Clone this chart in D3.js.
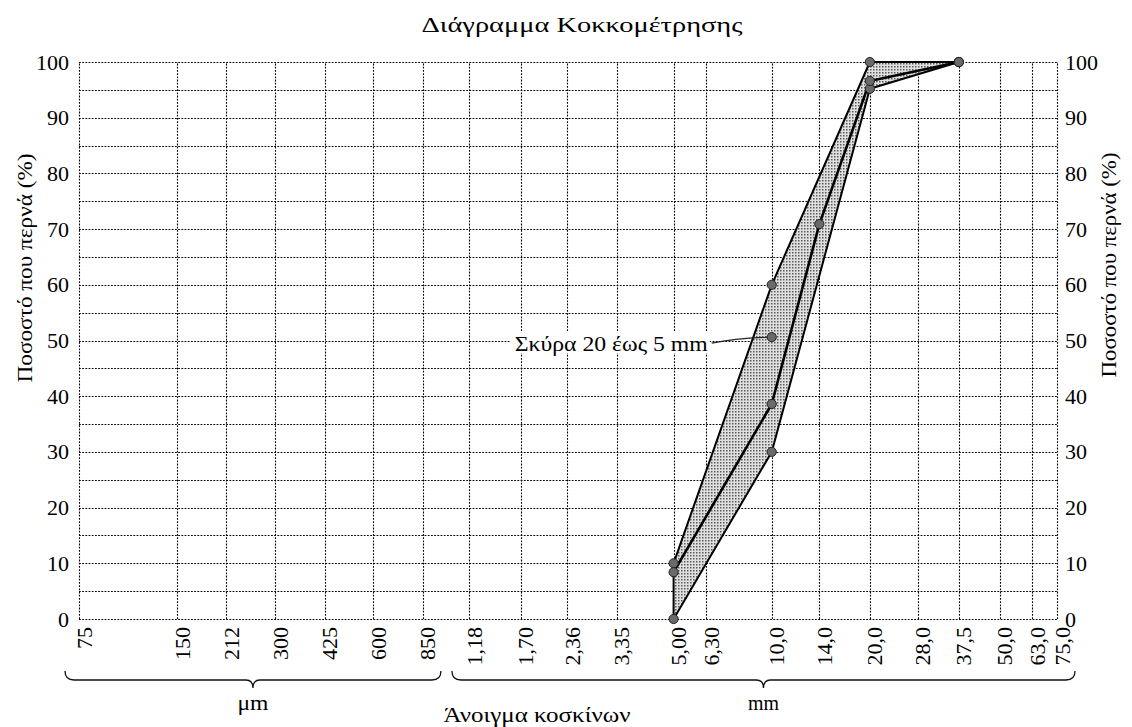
<!DOCTYPE html>
<html>
<head>
<meta charset="utf-8">
<script src="https://cdn.jsdelivr.net/npm/d3@7/dist/d3.min.js"></script>
</head>
<body style="margin:0;padding:0;background:#fff">
<svg id="svg" width="1132" height="727" style="display:block;font-family:'Liberation Serif'"></svg>
<script>
/* global d3 */
(function() {
    'use strict';

    // sieve openings in mm and the labels printed under them
    var sieveSizes = [0.075, 0.150, 0.212, 0.300, 0.425, 0.600, 0.850, 1.18, 1.70, 2.36, 3.35, 5.00, 6.30, 10.0, 14.0, 20.0, 28.0, 37.5, 50.0, 63.0, 75.0];
    var sieveLabels = ['75', '150', '212', '300', '425', '600', '850', '1,18', '1,70', '2,36', '3,35', '5,00', '6,30', '10,0', '14,0', '20,0', '28,0', '37,5', '50,0', '63,0', '75,0'];
    var yTicks = [0, 10, 20, 30, 40, 50, 60, 70, 80, 90, 100];
    var yGrid = d3.range(0, 101, 5);

    // grading envelope (upper / lower limit) and the sample curve
    var upperSizes = [5.00, 10.0, 20.0, 37.5];
    var upperPass = [10, 60, 100, 100];
    var lowerSizes = [5.00, 10.0, 20.0, 37.5];
    var lowerPass = [0, 30, 95.2, 100];
    var sampleSizes = [5.00, 10.0, 14.0, 20.0, 37.5];
    var samplePass = [8.4, 38.6, 70.9, 96.6, 100];

    var noteText = 'Σκύρα 20 έως 5 mm';
    var noteAt = [10.0, 50.6];

    var FONT = 'Liberation Serif';
    var margin = {top: 62, right: 75, bottom: 108, left: 79};
    var width = 1132, height = 727;

    var svg = d3.select('#svg').attr('font-family', FONT);

    var x = d3.scaleLog()
        .domain([sieveSizes[0], sieveSizes[sieveSizes.length - 1]])
        .range([margin.left, width - margin.right]);
    var y = d3.scaleLinear()
        .domain([0, 100])
        .range([height - margin.bottom, margin.top]);

    // stipple fill for the envelope
    var pat = svg.append('defs').append('pattern')
        .attr('id', 'stipple')
        .attr('patternUnits', 'userSpaceOnUse')
        .attr('width', 3)
        .attr('height', 3);
    pat.append('rect').attr('width', 3).attr('height', 3).attr('fill', '#e0e0e0');
    pat.append('rect').attr('x', 0).attr('y', 0).attr('width', 1.5).attr('height', 1.5).attr('fill', '#5a5a5a');

    function txt(sel, size, len) {
        sel.attr('font-family', FONT).attr('font-size', size).attr('fill', '#000');
        if (len) {
            sel.attr('textLength', len).attr('lengthAdjust', 'spacingAndGlyphs');
        }
        return sel;
    }

    //title
    svg.append('text')
        .attr('x', 582)
        .attr('y', 32)
        .attr('text-anchor', 'middle')
        .call(txt, 22, 321)
        .text('Διάγραμμα Κοκκομέτρησης');

    //grid
    var grid = svg.append('g')
        .attr('stroke', '#000')
        .attr('stroke-width', 1.1)
        .attr('stroke-dasharray', '1.8,1.4')
        .attr('fill', 'none');

    grid.selectAll('line.h')
        .data(yGrid)
        .enter()
        .append('line')
        .attr('class', 'h')
        .attr('x1', x.range()[0])
        .attr('x2', x.range()[1])
        .attr('y1', function(d) { return Math.round(y(d)) + 0.5; })
        .attr('y2', function(d) { return Math.round(y(d)) + 0.5; });

    grid.selectAll('line.v')
        .data(sieveSizes)
        .enter()
        .append('line')
        .attr('class', 'v')
        .attr('x1', function(d) { return Math.round(x(d)) + 0.5; })
        .attr('x2', function(d) { return Math.round(x(d)) + 0.5; })
        .attr('y1', y(0))
        .attr('y2', y(100));

    //y axis labels, both sides
    var yAxisL = d3.axisLeft(y).tickValues(yTicks).tickSize(0).tickPadding(10);
    var yAxisR = d3.axisRight(y).tickValues(yTicks).tickSize(0).tickPadding(8);

    svg.append('g')
        .attr('transform', 'translate(' + margin.left + ',0)')
        .call(yAxisL)
        .call(function(g) {
            g.select('.domain').remove();
            g.attr('font-family', FONT);
            g.selectAll('text').call(txt, 22);
        });

    svg.append('g')
        .attr('transform', 'translate(' + (width - margin.right) + ',0)')
        .call(yAxisR)
        .call(function(g) {
            g.select('.domain').remove();
            g.attr('font-family', FONT);
            g.selectAll('text').call(txt, 22);
        });

    svg.append('text')
        .attr('transform', 'translate(32,268) rotate(-90)')
        .attr('text-anchor', 'middle')
        .call(txt, 21, 229)
        .text('Ποσοστό που περνά (%)');

    svg.append('text')
        .attr('transform', 'translate(1116,265) rotate(-90)')
        .attr('text-anchor', 'middle')
        .call(txt, 21, 225)
        .text('Ποσοστό που περνά (%)');

    //x tick labels, rotated
    var xAxis = d3.axisBottom(x)
        .tickValues(sieveSizes)
        .tickFormat(function(d, i) { return sieveLabels[i]; })
        .tickSize(0)
        .tickPadding(0);

    svg.append('g')
        .attr('transform', 'translate(0,' + y(0) + ')')
        .call(xAxis)
        .call(function(g) {
            g.select('.domain').remove();
            g.attr('font-family', FONT);
            g.selectAll('text')
                .call(txt, 22)
                .attr('text-anchor', 'end')
                .attr('dy', null)
                .attr('y', 0)
                .attr('transform', 'translate(12,8) rotate(-90)');
        });

    //braces under the x labels
    function brace(x1, x2, yb) {
        var mid = (x1 + x2) / 2;
        return 'M' + x1 + ',' + (yb - 9) +
            'Q' + x1 + ',' + yb + ' ' + (x1 + 9) + ',' + yb +
            'L' + (mid - 7) + ',' + yb +
            'Q' + mid + ',' + yb + ' ' + mid + ',' + (yb + 8) +
            'Q' + mid + ',' + yb + ' ' + (mid + 7) + ',' + yb +
            'L' + (x2 - 9) + ',' + yb +
            'Q' + x2 + ',' + yb + ' ' + x2 + ',' + (yb - 9);
    }
    var split = (x(0.850) + x(1.18)) / 2;
    var braces = [
        {x1: x(sieveSizes[0]) - 14, x2: split - 5, label: 'μm'},
        {x1: split + 6, x2: x(sieveSizes[sieveSizes.length - 1]) + 18, label: 'mm'}
    ];
    svg.selectAll('path.brace')
        .data(braces)
        .enter()
        .append('path')
        .attr('class', 'brace')
        .attr('d', function(d) { return brace(d.x1, d.x2, 680); })
        .attr('fill', 'none')
        .attr('stroke', '#111')
        .attr('stroke-width', 1.3);
    svg.selectAll('text.brace')
        .data(braces)
        .enter()
        .append('text')
        .attr('class', 'brace')
        .attr('x', function(d) { return (d.x1 + d.x2) / 2; })
        .attr('y', 710)
        .attr('text-anchor', 'middle')
        .call(txt, 22, 31)
        .text(function(d) { return d.label; });

    svg.append('text')
        .attr('x', 537)
        .attr('y', 722)
        .attr('text-anchor', 'middle')
        .call(txt, 21, 187)
        .text('Άνοιγμα κοσκίνων');

    //envelope area
    var upper = upperSizes.map(function(d, i) { return [d, upperPass[i]]; });
    var lower = lowerSizes.map(function(d, i) { return [d, lowerPass[i]]; });
    var sample = sampleSizes.map(function(d, i) { return [d, samplePass[i]]; });
    var ring = upper.concat(lower.slice().reverse());

    var line = d3.line()
        .x(function(d) { return x(d[0]); })
        .y(function(d) { return y(d[1]); });

    svg.append('path')
        .attr('d', line(ring) + 'Z')
        .attr('fill', 'url(#stipple)')
        .attr('stroke', '#000')
        .attr('stroke-width', 2)
        .attr('stroke-linejoin', 'round');

    svg.append('path')
        .attr('d', line(sample))
        .attr('fill', 'none')
        .attr('stroke', '#000')
        .attr('stroke-width', 2.6)
        .attr('stroke-linejoin', 'round');

    //annotation
    var nx = x(noteAt[0]), ny = y(noteAt[1]);
    svg.append('rect')
        .attr('x', nx - 262)
        .attr('y', ny - 6)
        .attr('width', 200)
        .attr('height', 22)
        .attr('fill', '#fff');
    svg.append('text')
        .attr('x', nx - 64)
        .attr('y', ny + 14)
        .attr('text-anchor', 'end')
        .call(txt, 21, 193)
        .text(noteText);
    svg.append('path')
        .attr('d', 'M' + (nx - 60) + ',' + (ny + 6) + 'Q' + (nx - 35) + ',' + (ny + 1) + ' ' + nx + ',' + ny)
        .attr('fill', 'none')
        .attr('stroke', '#222')
        .attr('stroke-width', 1.2);

    //markers
    var pts = upper.concat(lower, sample, [noteAt]);
    svg.selectAll('circle.pt')
        .data(pts)
        .enter()
        .append('circle')
        .attr('class', 'pt')
        .attr('cx', function(d) { return x(d[0]); })
        .attr('cy', function(d) { return y(d[1]); })
        .attr('r', 4.6)
        .attr('fill', '#6a6a6a')
        .attr('stroke', '#222')
        .attr('stroke-width', 1);

})();
</script>
</body>
</html>
